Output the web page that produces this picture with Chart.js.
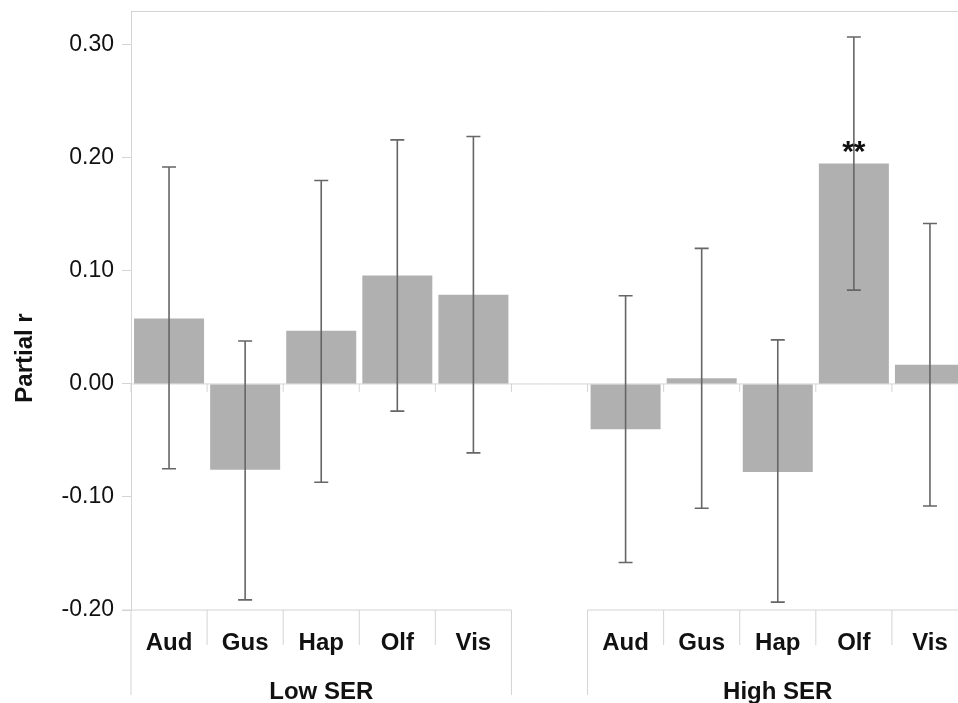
<!DOCTYPE html>
<html>
<head>
<meta charset="utf-8">
<script src="https://cdn.jsdelivr.net/npm/chart.js@4/dist/chart.umd.min.js"></script>
<style>
  html, body { margin: 0; padding: 0; background: #fff; overflow: hidden; }
  #wrap { width: 968px; height: 703px; }
</style>
</head>
<body>
<div id="wrap"><canvas id="chart"></canvas></div>
<script>
// data
const groups = ['Low SER', 'High SER'];
const senses = ['Aud', 'Gus', 'Hap', 'Olf', 'Vis'];
const lowR = [0.058, -0.076, 0.047, 0.096, 0.079];
const lowUpper = [0.192, 0.038, 0.180, 0.216, 0.219];
const lowLower = [-0.075, -0.191, -0.087, -0.024, -0.061];
const highR = [-0.040, 0.005, -0.078, 0.195, 0.017];
const highUpper = [0.078, 0.120, 0.039, 0.307, 0.142];
const highLower = [-0.158, -0.110, -0.193, 0.083, -0.108];
const stars = ['', '', '', '**', ''];
const yTicks = [-0.2, -0.1, 0, 0.1, 0.2, 0.3];

// one empty slot between the two groups
const labels = [...senses, '', ...senses];
const values = [...lowR, null, ...highR];
const upper = [...lowUpper, null, ...highUpper];
const lower = [...lowLower, null, ...highLower];
const marks = [...stars.map(() => ''), '', ...stars];

const axisGrey = '#d4d4d4';
const font = 'Liberation Sans, Arial, sans-serif';

const decorPlugin = {
    id: 'decor',
    beforeDatasetsDraw(chart) {
        const { ctx, chartArea: a, scales: { x, y } } = chart;
        const y0 = y.getPixelForValue(0);
        const n = labels.length;
        const step = x.getPixelForValue(1) - x.getPixelForValue(0);
        const edge = i => x.getPixelForValue(0) - step / 2 + i * step;
        ctx.save();
        ctx.strokeStyle = axisGrey;
        ctx.lineWidth = 1;
        // zero line with small ticks
        ctx.beginPath();
        ctx.moveTo(a.left, y0); ctx.lineTo(a.right, y0);
        for (let i = 0; i <= n; i++) {
            ctx.moveTo(edge(i), y0); ctx.lineTo(edge(i), y0 + 8);
        }
        // top frame
        ctx.moveTo(a.left, a.top + 0.5); ctx.lineTo(a.right, a.top + 0.5);
        // bottom axis per group
        ctx.moveTo(edge(0) - 9, a.bottom); ctx.lineTo(edge(5), a.bottom);
        ctx.moveTo(edge(6), a.bottom); ctx.lineTo(edge(11), a.bottom);
        // category separators and group edges
        for (let i = 0; i <= n; i++) {
            if (i === 0 || i === 5 || i === 6 || i === 11) {
                ctx.moveTo(edge(i), a.bottom); ctx.lineTo(edge(i), a.bottom + 85);
            } else {
                ctx.moveTo(edge(i), a.bottom); ctx.lineTo(edge(i), a.bottom + 35);
            }
        }
        ctx.stroke();

        // category and group labels
        ctx.fillStyle = '#111';
        ctx.textAlign = 'center';
        ctx.textBaseline = 'middle';
        ctx.font = 'bold 24px ' + font;
        labels.forEach((l, i) => {
            if (l) ctx.fillText(l, x.getPixelForValue(i), a.bottom + 33);
        });
        ctx.fillText(groups[0], (edge(0) + edge(5)) / 2, a.bottom + 82);
        ctx.fillText(groups[1], (edge(6) + edge(11)) / 2, a.bottom + 82);

        // y title
        ctx.translate(25, 358);
        ctx.rotate(-Math.PI / 2);
        ctx.fillText('Partial r', 0, 0);
        ctx.restore();
    },
    afterDatasetsDraw(chart) {
        const { ctx, scales: { x, y } } = chart;
        ctx.save();
        ctx.strokeStyle = '#666';
        ctx.lineWidth = 1.6;
        upper.forEach((u, i) => {
            if (u === null) return;
            const cx = x.getPixelForValue(i);
            const yu = y.getPixelForValue(u);
            const yl = y.getPixelForValue(lower[i]);
            ctx.beginPath();
            ctx.moveTo(cx, yu); ctx.lineTo(cx, yl);
            ctx.moveTo(cx - 7, yu); ctx.lineTo(cx + 7, yu);
            ctx.moveTo(cx - 7, yl); ctx.lineTo(cx + 7, yl);
            ctx.stroke();
        });
        ctx.fillStyle = '#111';
        ctx.font = 'bold 30px ' + font;
        ctx.textAlign = 'center';
        ctx.textBaseline = 'alphabetic';
        marks.forEach((m, i) => {
            if (m) ctx.fillText(m, x.getPixelForValue(i), y.getPixelForValue(values[i]) - 3);
        });
        ctx.restore();
    }
};

new Chart(document.getElementById('chart'), {
    type: 'bar',
    data: {
        labels: labels,
        datasets: [{
            data: values,
            backgroundColor: '#b0b0b0',
            borderWidth: 0,
            barPercentage: 0.92,
            categoryPercentage: 1
        }]
    },
    options: {
        responsive: true,
        maintainAspectRatio: false,
        animation: false,
        layout: { padding: { top: 11, bottom: 93, left: 0, right: 0 } },
        plugins: { legend: { display: false }, tooltip: { enabled: false } },
        scales: {
            x: { display: false, offset: true },
            y: {
                min: -0.2,
                max: 0.33,
                afterBuildTicks: s => { s.ticks = yTicks.map(v => ({ value: v })); },
                afterFit: s => { s.width = 131; s.paddingTop = 0; s.paddingBottom = 0; },
                border: { color: axisGrey },
                grid: { drawOnChartArea: false, tickLength: 9, color: axisGrey },
                ticks: {
                    padding: 8,
                    color: '#111',
                    font: { family: font, size: 23 },
                    callback: v => v.toFixed(2)
                }
            }
        }
    },
    plugins: [decorPlugin]
});
</script>
</body>
</html>
